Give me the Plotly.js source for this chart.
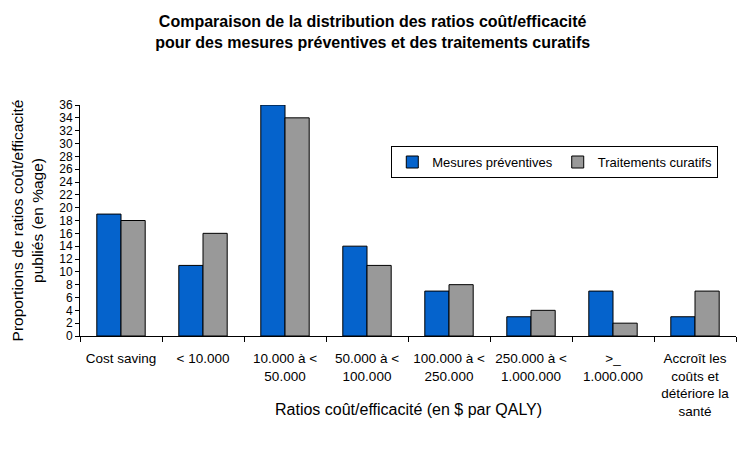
<!DOCTYPE html>
<html><head><meta charset="utf-8">
<script src="https://cdn.plot.ly/plotly-3.0.1.min.js"></script>
<style>body{margin:0}#c{width:738px;height:449px}</style>
</head><body><div id="c"></div>
<script>
const categories = ["Cost saving", "&lt; 10.000", "10.000 à &lt;<br>50.000", "50.000 à &lt;<br>100.000", "100.000 à &lt;<br>250.000", "250.000 à &lt;<br>1.000.000", ">_<br>1.000.000", "Accroît les<br>coûts et<br>détériore la<br>santé"];
const preventives = [19, 11, 36, 14, 7, 3, 7, 3];
const curatifs = [18, 16, 34, 11, 8, 4, 2, 7];
const yTicks = [0,2,4,6,8,10,12,14,16,18,20,22,24,26,28,30,32,34,36];

const font = "Liberation Sans, Arial, sans-serif";
const data = [
  {type:"bar", name:"Mesures préventives", x:categories, y:preventives,
   marker:{color:"#0563cc", line:{color:"#000", width:1}}},
  {type:"bar", name:"Traitements curatifs", x:categories, y:curatifs,
   marker:{color:"#999999", line:{color:"#000", width:1}}}
];
const layout = {
  width:738, height:449,
  margin:{l:80, r:2, t:105, b:113, autoexpand:false},
  paper_bgcolor:"#fff", plot_bgcolor:"#fff",
  font:{family:font, color:"#000", size:13},
  title:{text:"<b>Comparaison de la distribution des ratios coût/efficacité<br>pour des mesures préventives et des traitements curatifs</b>",
    x:0.505, xanchor:"center", y:0.94, yanchor:"top", font:{size:16, family:font}},
  barmode:"group", bargap:0.41, bargroupgap:0,
  showlegend:true,
  legend:{orientation:"h", x:0.973, xanchor:"right", y:0.753, yanchor:"middle",
    bordercolor:"#000", borderwidth:1, bgcolor:"#fff", font:{size:13, family:font},
    itemwidth:30, tracegroupgap:0},
  xaxis:{type:"category", tickangle:0, tickson:"boundaries", ticks:"outside", ticklen:5, tickcolor:"#000",
    showline:true, linecolor:"#000", linewidth:1, showgrid:false, zeroline:false,
    tickfont:{size:13.5, family:font}, ticklabelstandoff:10},
  yaxis:{range:[0,36], tickvals:yTicks, ticktext:yTicks.map(String), ticks:"outside", ticklen:4, tickcolor:"#000",
    showline:true, linecolor:"#000", linewidth:1, showgrid:false, zeroline:false,
    tickfont:{size:12, family:font},
    title:{text:"Proportions de ratios coût/efficacité<br>publiés (en %age)", font:{size:15.5, family:font}, standoff:11}},
  annotations:[{text:"Ratios coût/efficacité (en $ par QALY)", xref:"paper", yref:"paper",
    x:0.5, xanchor:"center", y:-0.32, yanchor:"middle", showarrow:false, font:{size:16, family:font}}]
};
Plotly.newPlot("c", data, layout, {displayModeBar:false, staticPlot:true});
</script></body></html>
